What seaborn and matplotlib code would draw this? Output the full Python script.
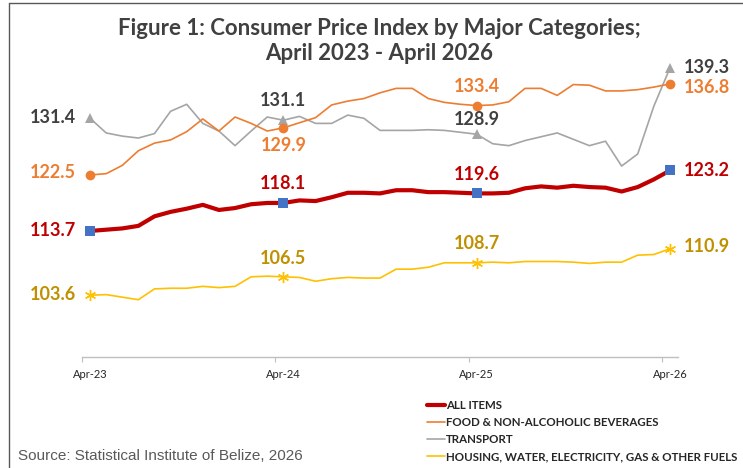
import matplotlib
matplotlib.use("Agg")
import matplotlib.pyplot as plt
from matplotlib.lines import Line2D
import numpy as np
import pandas as pd
import seaborn as sns

# ---------------- data ----------------
months = pd.date_range("2023-04-01", "2026-04-01", freq="MS").strftime("%b-%y").tolist()
tick_labels = ["Apr-23", "Apr-24", "Apr-25", "Apr-26"]

all_items = [113.7, 113.9, 114.1, 114.5, 116.0, 116.7, 117.2, 117.8, 117.0, 117.3, 117.9, 118.1,
             118.1, 118.5, 118.4, 119.0, 119.7, 119.7, 119.6, 120.1, 120.1, 119.8, 119.8, 119.7,
             119.6, 119.6, 119.7, 120.4, 120.7, 120.5, 120.8, 120.6, 120.5, 119.9, 120.6, 121.8,
             123.2]
food = [122.5, 122.7, 124.0, 126.3, 127.5, 128.0, 129.3, 131.3, 129.4, 131.6, 130.6, 129.4,
        129.9, 130.7, 131.5, 133.5, 134.1, 134.5, 135.4, 136.1, 136.1, 134.5, 133.9, 133.6,
        133.4, 133.5, 134.0, 136.1, 136.1, 135.0, 136.7, 136.6, 135.7, 135.7, 135.9, 136.3,
        136.8]
transport = [131.4, 129.1, 128.6, 128.3, 129.0, 132.5, 133.6, 130.6, 129.4, 127.1, 129.4, 131.6,
             131.1, 131.7, 130.6, 130.6, 131.9, 131.4, 129.5, 129.5, 129.5, 129.6, 129.5, 129.2,
             128.9, 127.4, 127.1, 127.9, 128.5, 129.1, 128.1, 127.1, 127.8, 123.9, 125.8, 133.3,
             139.3]
housing = [103.6, 103.7, 103.3, 102.9, 104.6, 104.7, 104.7, 105.0, 104.8, 105.0, 106.5, 106.6,
           106.5, 106.4, 105.8, 106.2, 106.4, 106.3, 106.3, 107.7, 107.7, 108.0, 108.7, 108.7,
           108.7, 108.8, 108.7, 108.9, 108.9, 108.9, 108.8, 108.6, 108.8, 108.8, 109.9, 110.0,
           110.9]
series_names = ["ALL ITEMS", "FOOD & NON-ALCOHOLIC BEVERAGES", "TRANSPORT",
                "HOUSING, WATER, ELECTRICITY, GAS & OTHER FUELS"]
labelled = [0, 12, 24, 36]

idx = np.arange(len(months))
df = pd.DataFrame({"idx": idx, "month": months, "all": all_items, "food": food,
                   "transport": transport, "housing": housing})

# ---------------- figure ----------------
sns.set_theme(style="white")
plt.rcParams["font.family"] = ["Lato", "DejaVu Sans"]

W, H = 743, 468
fig = plt.figure(figsize=(W / 100, H / 100), dpi=100)
ax = fig.add_axes([82 / W, 1 - 357 / H, 596 / W, 317 / H])

styles = {
    "housing": dict(color="#FFC000", lw=1.2, marker=(6, 2, 0), ms=8, mfc="#FFC000", mec="#FFC000", mew=1.0,
                    lab="#BF9000", z=2),
    "transport": dict(color="#A5A5A5", lw=1.2, marker="^", ms=7.5, mfc="#A5A5A5", mec="#A5A5A5", mew=0,
                      lab="#404040", z=3),
    "food": dict(color="#ED7D31", lw=1.2, marker="o", ms=7, mfc="#ED7D31", mec="#ED7D31", mew=0,
                 lab="#ED7D31", z=4),
    "all": dict(color="#C00000", lw=3.0, marker="s", ms=7, mfc="#4472C4", mec="#4472C4", mew=0,
                lab="#C00000", z=5),
}

for key in ["housing", "transport", "food", "all"]:
    s = styles[key]
    sns.lineplot(data=df, x="idx", y=key, ax=ax, color=s["color"], linewidth=s["lw"],
                 marker=s["marker"], markevery=labelled, markersize=s["ms"],
                 markerfacecolor=s["mfc"], markeredgecolor=s["mec"], markeredgewidth=s["mew"],
                 zorder=s["z"], solid_joinstyle="round")

ax.set_xlim(-0.5, 36.5)
ax.set_ylim(93.9, 143.7)
ax.set_xlabel("")
ax.set_ylabel("")
ax.set_yticks([])
ax.set_xticks(labelled)
ax.set_xticklabels(tick_labels, fontsize=8, color="#262626")
ax.set_xticks([i - 0.5 for i in labelled], minor=True)
ax.tick_params(axis="x", which="major", length=0, pad=9)
ax.tick_params(axis="x", which="minor", length=3.5, width=0.8, color="#BFBFBF", bottom=True)
for sp in ["top", "right", "left"]:
    ax.spines[sp].set_visible(False)
ax.spines["bottom"].set_color("#BFBFBF")
ax.spines["bottom"].set_linewidth(1.0)

# ---------------- data labels ----------------
lab_fs = 13
def put(key, i, dx, dy, ha):
    vals = df[key].tolist()
    ax.annotate(f"{vals[i]:.1f}", (i, vals[i]), xytext=(dx, dy), textcoords="offset pixels",
                ha=ha, va="center", fontsize=lab_fs, fontweight="bold",
                color=styles[key]["lab"], zorder=10, annotation_clip=False)

# left-hand labels
put("transport", 0, -14, 1, "right")
put("food", 0, -14, 2, "right")
put("all", 0, -14, 0, "right")
put("housing", 0, -14, 1, "right")
# middle labels
put("transport", 12, 0, 20, "center")
put("food", 12, 0, -18, "center")
put("all", 12, 0, 19, "center")
put("housing", 12, 0, 18, "center")
put("food", 24, 0, 19, "center")
put("transport", 24, 0, 15, "center")
put("all", 24, 0, 19, "center")
put("housing", 24, 0, 19, "center")
# right-hand labels
put("transport", 36, 14, 1, "left")
put("food", 36, 14, -4, "left")
put("all", 36, 14, 0, "left")
put("housing", 36, 14, 2, "left")

# ---------------- title ----------------
fig.text(379 / W, 1 - 41 / H,
         "Figure 1: Consumer Price Index by Major Categories;\nApril 2023 - April 2026",
         ha="center", va="center", fontsize=16, fontweight="bold", color="#404040",
         linespacing=1.25)

# ---------------- legend ----------------
handles = [Line2D([], [], color=styles[k]["color"], lw=(3.0 if k == "all" else 1.2))
           for k in ["all", "food", "transport", "housing"]]
fig.legend(handles, series_names, loc="upper left", bbox_to_anchor=(427 / W, 1 - 400 / H),
           frameon=False, prop={"family": ["Lato", "DejaVu Sans"], "weight": "bold", "size": 8.3},
           handlelength=1.55, handletextpad=0.1, labelspacing=0.52, borderpad=0, borderaxespad=0)

# ---------------- source ----------------
fig.text(18 / W, 1 - 456 / H, "Source: Statistical Institute of Belize, 2026",
         ha="left", va="center", fontsize=11, color="#595959", family="Liberation Sans")

# chart-area border (top and left edges)
fig.add_artist(Line2D([9 / W, 1], [1 - 3 / H, 1 - 3 / H], transform=fig.transFigure,
                      color="#595959", lw=1))
fig.add_artist(Line2D([9 / W, 9 / W], [0, 1 - 3 / H], transform=fig.transFigure,
                      color="#595959", lw=1))

fig.savefig("out.png", dpi=100)
